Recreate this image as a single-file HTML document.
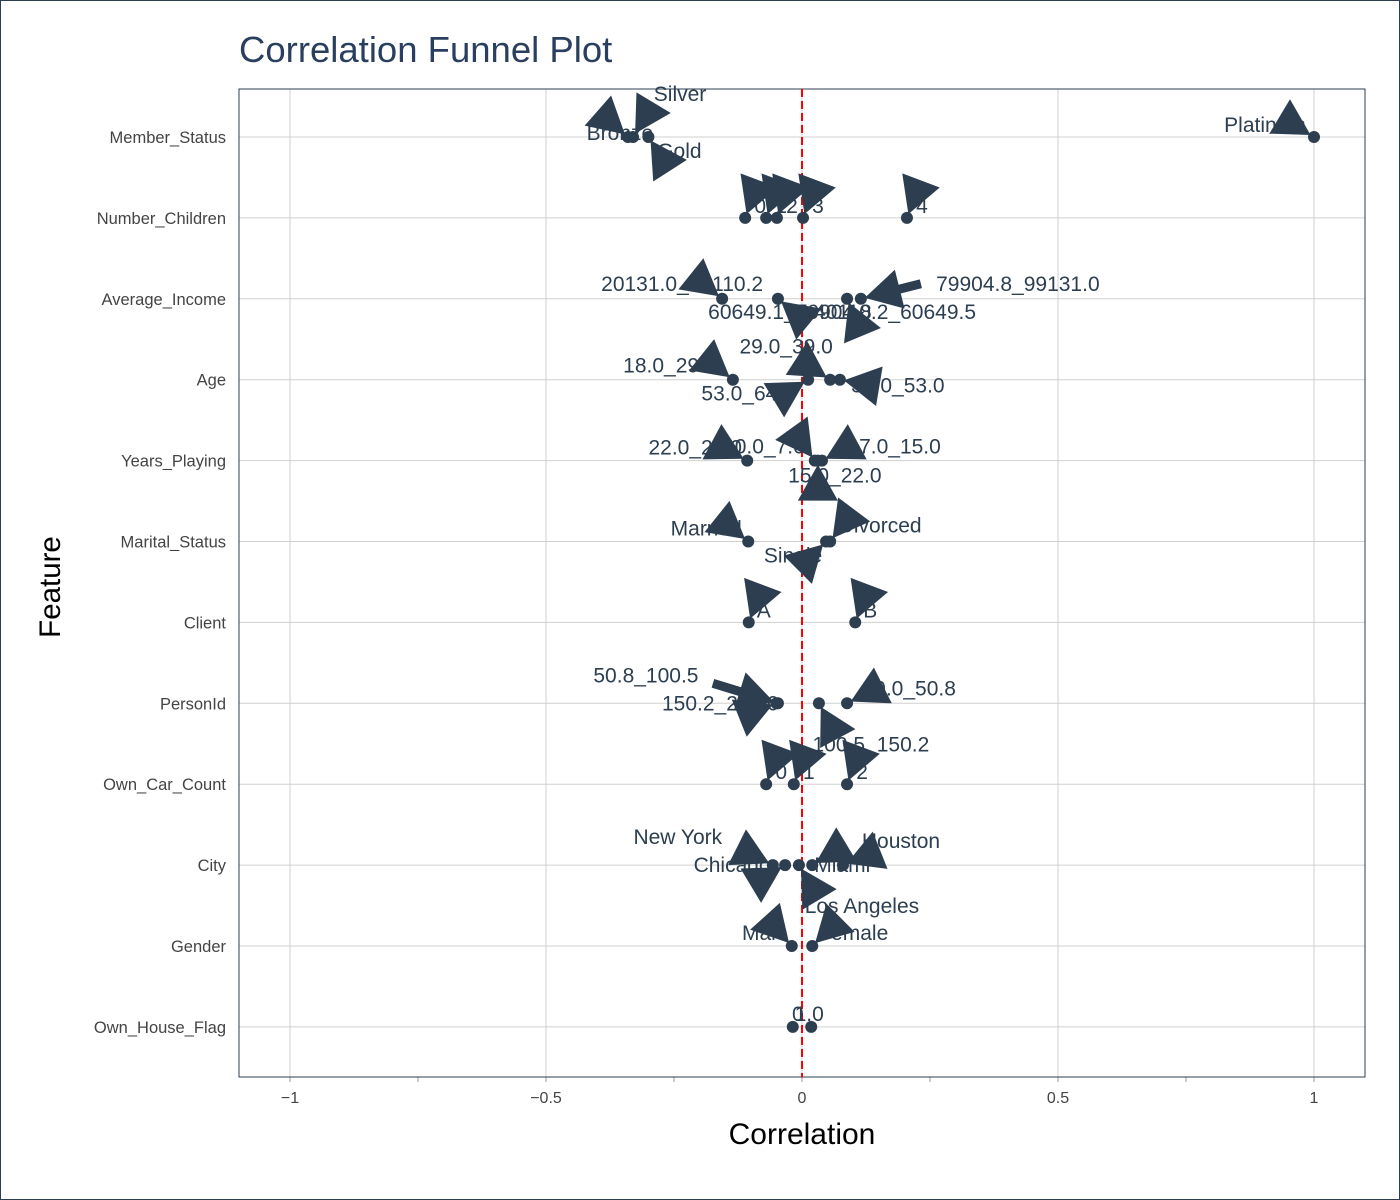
<!DOCTYPE html>
<html><head><meta charset="utf-8"><style>
body{margin:0;background:#fff}
svg{display:block;font-family:"Liberation Sans",sans-serif}
</style></head><body>
<svg id="chart" width="1400" height="1200">
<rect x="0.5" y="0.5" width="1399" height="1199" fill="#fff" stroke="#2c3e50"/>
<text x="239" y="62" font-size="36.5" fill="#2a3f5f">Correlation Funnel Plot</text>
<text x="802" y="1144" font-size="30" text-anchor="middle" fill="#000">Correlation</text>
<text transform="translate(60,587) rotate(-90)" font-size="29.5" text-anchor="middle" fill="#000">Feature</text>
<g id="grid"></g><g id="marks"></g>
</svg>
<script>
const features=["Member_Status","Number_Children","Average_Income","Age","Years_Playing","Marital_Status","Client","PersonId","Own_Car_Count","City","Gender","Own_House_Flag"];
const xTicks=[-1,-0.5,0,0.5,1];
const xTickLabels=["−1","−0.5","0","0.5","1"];
const annFeature=[0,0,0,0,1,1,1,1,1,2,2,2,2,3,3,3,3,4,4,4,4,5,5,5,6,6,7,7,7,7,8,8,8,9,9,9,9,9,10,10,11,11];
const annLabel=["Bronze","Silver","Gold","Platinum","0","1","2","3","4","20131.0_40110.2","60649.1_79904.8","40110.2_60649.5","79904.8_99131.0","18.0_29.0","53.0_64.0","29.0_39.0","39.0_53.0","22.0_29.0","0.0_7.0","7.0_15.0","15.0_22.0","Married","Single","Divorced","A","B","50.8_100.5","150.2_200.0","100.5_150.2","0.0_50.8","0","1","2","New York","Chicago","Los Angeles","Miami","Houston","Male","Female","0","1.0"];
const annValue=[-0.34,-0.33,-0.30,1.0,-0.111,-0.07,-0.049,0.002,0.205,-0.156,-0.047,0.088,0.115,-0.135,0.012,0.055,0.074,-0.107,0.025,0.039,0.031,-0.105,0.047,0.055,-0.104,0.104,-0.047,-0.05,0.033,0.088,-0.07,-0.016,0.088,-0.057,-0.033,-0.006,0.02,0.08,-0.02,0.02,-0.018,0.018];
// layout offsets (pixels): arrow tail dx,dy and text dx,dy
const arrowOff=[[-25,-22],[15,-25],[18,28],[-25,-15],[12,-32],[12,-32],[12,-32],[12,-32],[12,-32],[-25,-20],[22,18],[10,24],[60,-15],[-25,-20],[-25,15],[-28,-18],[30,5],[-28,-15],[-18,-25],[28,-15],[0,30],[-25,-20],[-15,15],[15,-20],[12,-32],[12,-32],[-65,-20],[-25,10],[15,28],[30,-15],[12,-32],[12,-32],[12,-32],[-30,-15],[-25,15],[15,25],[25,-15],[30,-12],[-18,-20],[20,-20],null,null];
const textOff=[[-8,-4],[47,-43],[31,14],[-49,-12],[15,-12],[15,-12],[15,-12],[15,-12],[15,-12],[-40,-15],[12,13],[48,13],[157,-15],[-63,-14],[-60,14],[-44,-33],[58,6],[-52,-13],[-45,-14],[78,-14],[17,15],[-42,-13],[-33,14],[50,-16],[15,-12],[15,-12],[-132,-28],[-56,0],[52,41],[68,-15],[15,-12],[15,-12],[15,-12],[-95,-28],[-53,0],[63,41],[30,0],[58,-24],[-27,-13],[41,-13],[5,-13],[-2,-13]];

const L=239,R=1365,T=89,B=1077;
const xs=v=>802+v*512;
const ys=i=>137+i*80.9;
const NS="http://www.w3.org/2000/svg";
function mk(tag,attrs,parent){const e=document.createElementNS(NS,tag);for(const k in attrs)e.setAttribute(k,attrs[k]);parent.appendChild(e);return e;}
const grid=document.getElementById('grid'),marks=document.getElementById('marks');
features.forEach((f,i)=>{
  const l=mk('line',{x1:L,x2:R,y1:ys(i),y2:ys(i),stroke:'#d0d0d0','stroke-width':1},grid);
  
  
  const t=mk('text',{x:226,y:ys(i)+6,'font-size':16.5,'text-anchor':'end',fill:'#444'},grid);
  t.textContent=f;
  
  
});
xTicks.forEach((v,i)=>{
  const l=mk('line',{x1:xs(v),x2:xs(v),y1:T,y2:B,stroke:'#d0d0d0','stroke-width':1},grid);
  
  
  const t=mk('text',{x:xs(v),y:1103,'font-size':16,'text-anchor':'middle',fill:'#444'},grid);
  t.textContent=xTickLabels[i];
  
  
});
for(let v=-1;v<=1.001;v+=0.25){
  const tk=mk('line',{x1:xs(v),x2:xs(v),y1:B,y2:B+5,stroke:'#999'},grid);
  
  
}
const fr=mk('rect',{x:L,y:T,width:R-L,height:B-T,fill:'none',stroke:'#2c3e50','stroke-width':1},grid);


const zl=mk('line',{x1:xs(0),x2:xs(0),y1:T,y2:B,stroke:'#ff0000','stroke-width':2,'stroke-dasharray':'8,4'},grid);



const C='#2c3e50';
annValue.forEach((v,i)=>{
  const px=xs(v),py=ys(annFeature[i]);
  const to=textOff[i];
  const t=mk('text',{x:px+to[0],y:py+to[1]+7,'font-size':21,'text-anchor':'middle',fill:C},marks);
  t.textContent=annLabel[i];
  
  
});
annValue.forEach((v,i)=>{
  const px=xs(v),py=ys(annFeature[i]);
  const d=mk('circle',{cx:px,cy:py,r:6,fill:C},marks);
  
  
  const a=arrowOff[i];
  if(!a)return;
  const len=Math.hypot(a[0],a[1]),ux=a[0]/len,uy=a[1]/len,nx=-uy,ny=ux;
  if(len>40){
    const s=mk('line',{x1:px+30*ux,y1:py+30*uy,x2:px+a[0],y2:py+a[1],stroke:C,'stroke-width':9},marks);
    
    
  }
  const tx=px+4*ux,ty=py+4*uy,bx=px+40*ux,by=py+40*uy;
  const pts=[[tx,ty],[bx+20*nx,by+20*ny],[bx-20*nx,by-20*ny]].map(p=>p.join(',')).join(' ');
  const h=mk('polygon',{points:pts,fill:C},marks);
  
  
});
</script>
</body></html>
